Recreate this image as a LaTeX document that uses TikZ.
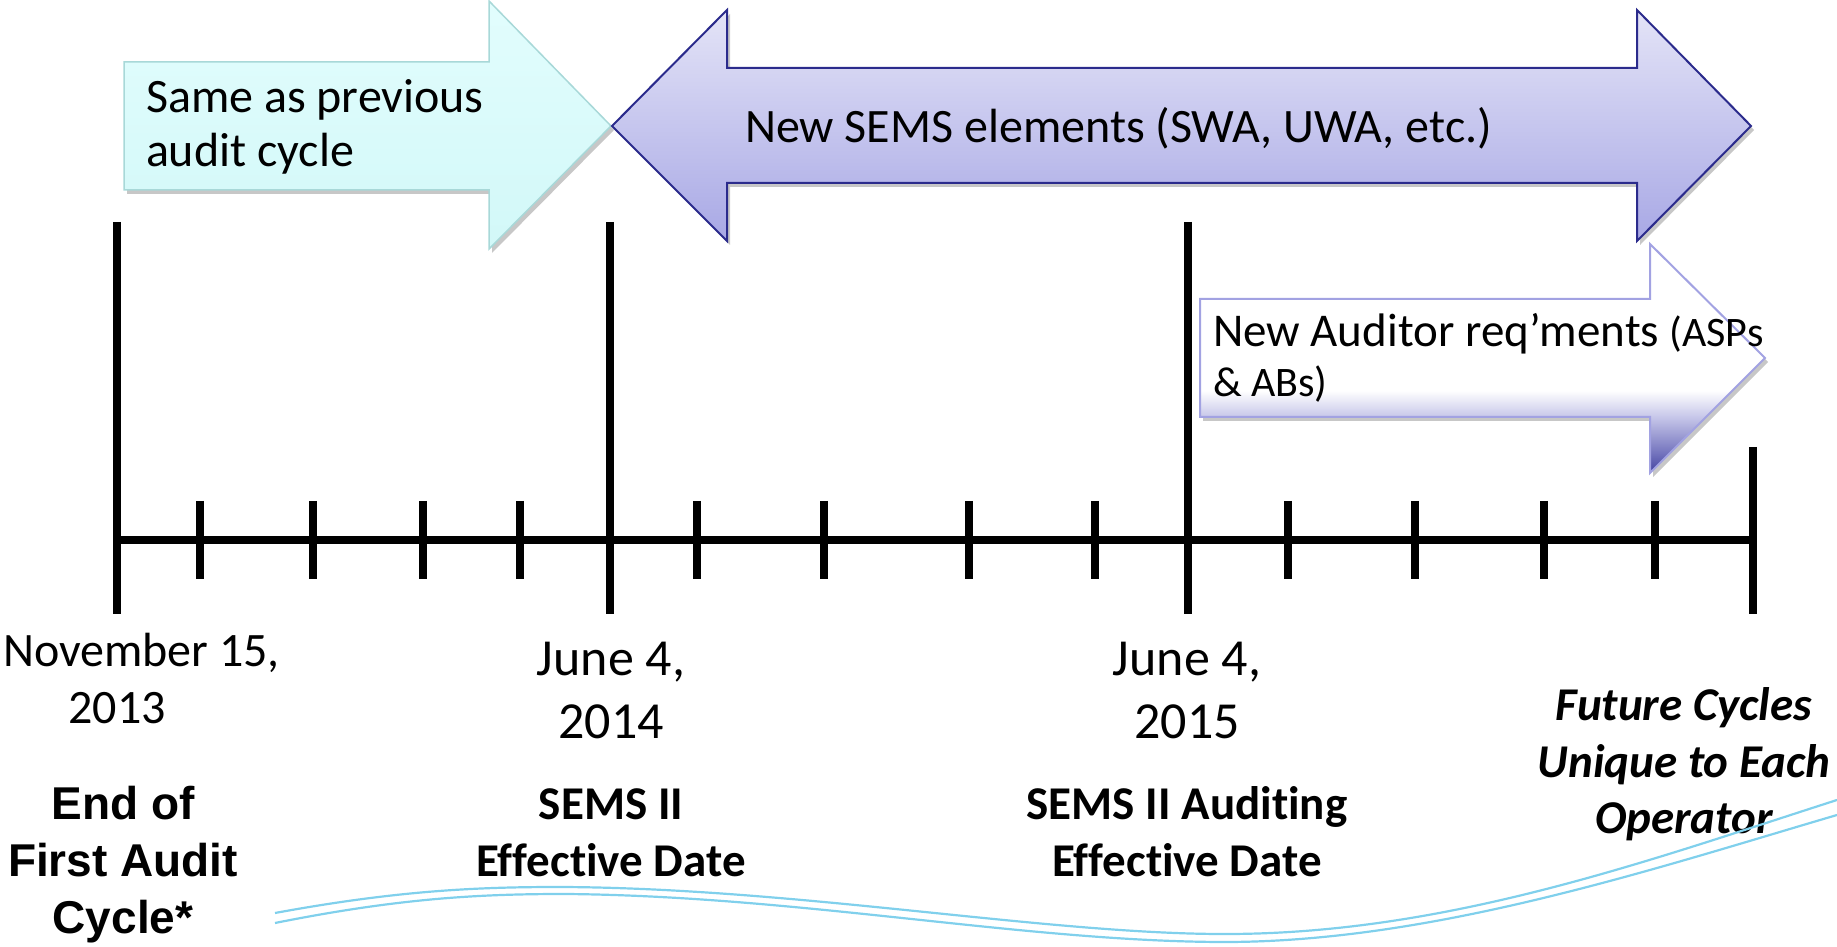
\documentclass[tikz,border=0pt]{standalone}
\usepackage{fontspec}
\setmainfont{Carlito}[Ligatures={TeX,NoCommon}]
\newfontfamily\arialfont{Liberation Sans}
\usetikzlibrary{shadows}
\definecolor{cyanTop}{HTML}{E2FDFD}
\definecolor{cyanBot}{HTML}{D2F8F8}
\definecolor{cyanEdge}{HTML}{A8D8D8}
\definecolor{purTop}{HTML}{E4E4F7}
\definecolor{purBot}{HTML}{A8A8E5}
\definecolor{purEdge}{HTML}{2B2B8C}
\definecolor{audEdge}{HTML}{A2A2E2}
\definecolor{audA}{HTML}{4242A0}
\definecolor{audB}{HTML}{7474BE}
\definecolor{audC}{HTML}{C6C6E9}
\definecolor{wave}{HTML}{80D0EC}
\pgfdeclareverticalshading{auditshade}{100bp}{color(0bp)=(audA); color(25bp)=(audA); color(29.4bp)=(audB); color(37.2bp)=(audC); color(43bp)=(white); color(100bp)=(white)}
\begin{document}
\begin{tikzpicture}[x=1pt,y=1pt,
  axisline/.style={line width=8pt, black},
  arrowshadow/.style={drop shadow={shadow xshift=3pt, shadow yshift=-4pt, opacity=0.22, fill=black}},
  cyanarrow/.style={arrowshadow, top color=cyanTop, bottom color=cyanBot, draw=cyanEdge, line width=1.5pt},
  purarrow/.style={arrowshadow, top color=purTop, bottom color=purBot, draw=purEdge, line width=2pt, line join=miter},
  audarrow/.style={arrowshadow, shading=auditshade, draw=audEdge, line width=2pt},
  lbl/.style={inner sep=0pt, outer sep=0pt, text=black},
  reg48/.style={lbl, font=\fontsize{48}{54}\selectfont},
  date52/.style={lbl, align=center, font=\fontsize{52}{63}\selectfont},
  bold47/.style={lbl, align=center, font=\bfseries\fontsize{47}{57}\selectfont},
  wavy/.style={draw=wave, line width=2.2pt}
]
\useasboundingbox (0,0) rectangle (1837,947);

% arrows
\path[cyanarrow] (124,885) -- (489,885) -- (489,946) -- (611,821) -- (489,698) -- (489,757) -- (124,757) -- cycle;
\path[purarrow] (612,821) -- (727,937) -- (727,879) -- (1637,879) -- (1637,937) -- (1751,821) -- (1637,706) -- (1637,764) -- (727,764) -- (727,706) -- cycle;
\path[audarrow] (1200,648) -- (1650,648) -- (1650,703) -- (1765,589) -- (1650,474) -- (1650,530) -- (1200,530) -- cycle;

% (multi-line nodes: base anchor = baseline of the last line)
\node[reg48, align=left, anchor=base west] (same) at (146,780) {Same as previous\\audit cycle};
\node[reg48, anchor=base west] (sems) at (745,804) {New SEMS elements (SWA, UWA, etc.)};
\node[lbl, align=left, anchor=base west, font=\fontsize{47}{50}\selectfont] (aud) at (1213,550)
  {New Auditor req’ments {\fontsize{42}{50}\selectfont(ASPs}\\{\fontsize{42}{50}\selectfont\& ABs)}};

% timeline
\draw[axisline] (117,407) -- (1753,407);
\foreach \x in {117,610,1188} \draw[axisline] (\x,725) -- (\x,333);
\draw[axisline] (1753,500) -- (1753,333);
\foreach \x in {200,313,423,520,697,824,969,1095,1288,1415,1544,1655}
  \draw[axisline] (\x,446) -- (\x,368);

% labels
\node[reg48, anchor=base west] (nov) at (3,280) {November 15,};
\node[reg48, anchor=base] (nov2) at (117,223) {2013};
\node[date52, anchor=base] (jun14) at (611,208) {June 4,\\2014};
\node[date52, anchor=base] (jun15) at (1187,208) {June 4,\\2015};
\node[lbl, align=center, anchor=base, font=\arialfont\bfseries\fontsize{46}{57}\selectfont] (endc) at (123,13) {End of\\First Audit\\Cycle*};
\node[bold47, anchor=base] (eff) at (611,70) {SEMS II\\Effective Date};
\node[bold47, anchor=base] (effa) at (1187,70) {SEMS II Auditing\\Effective Date};
\node[lbl, align=center, anchor=base, font=\bfseries\itshape\fontsize{47}{56.5}\selectfont] (fut) at (1684,113) {Future Cycles\\Unique to Each\\Operator};

% decorative waves
\path[wavy] (275,34) .. controls (400,57) and (480,60) .. (560,60) .. controls (800,59) and (1050,12) .. (1230,13) .. controls (1450,14) and (1650,87) .. (1837,147);
\path[wavy] (275,24) .. controls (400,49) and (480,53) .. (565,53) .. controls (800,51) and (1020,6) .. (1220,5) .. controls (1430,4) and (1650,77) .. (1837,132);
\end{tikzpicture}
\end{document}
